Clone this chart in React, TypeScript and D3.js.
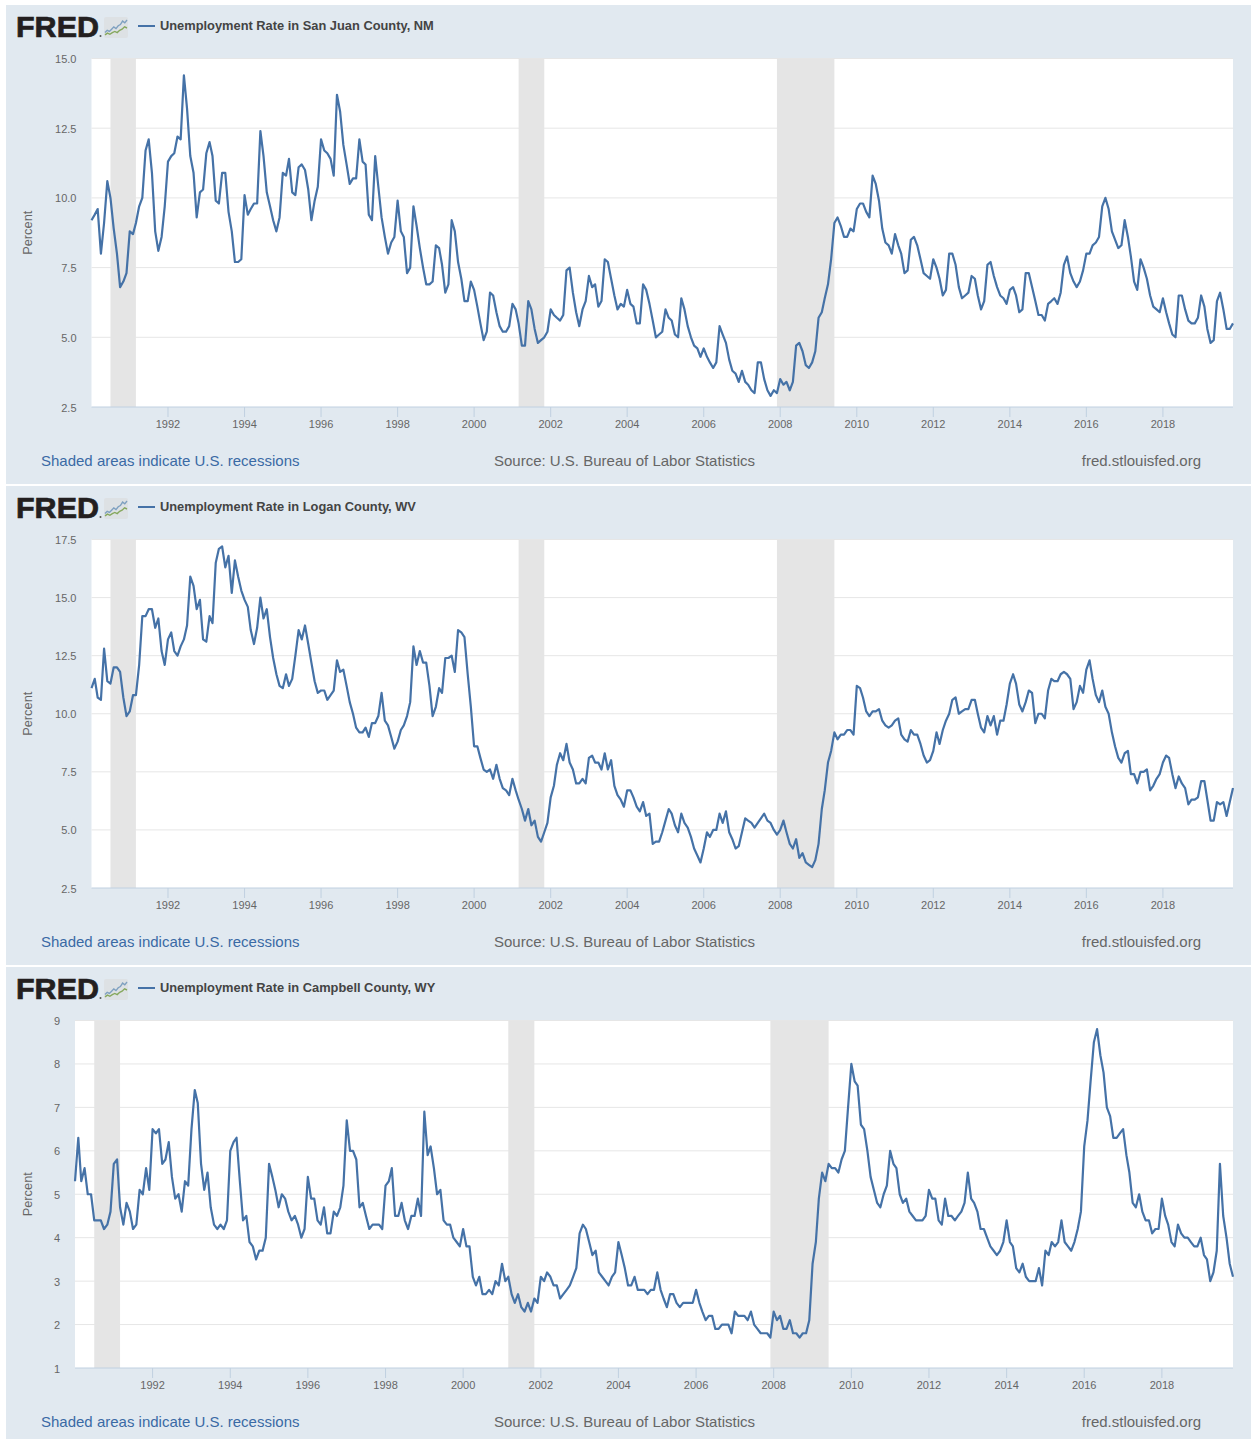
import React from "react";
import * as d3 from "d3";

// monthly values, Jan 1990 - Nov 2019, one row per year
const sanJuan = [
  9.2,9.4,9.6,8.0,9.1,10.6,10.0,8.9,8.0,6.8,7.0,7.3,
  8.8,8.7,9.1,9.7,10.0,11.7,12.1,10.9,8.8,8.1,8.6,9.7,
  11.3,11.5,11.6,12.2,12.1,14.4,13.2,11.5,10.9,9.3,10.2,10.3,
  11.6,12.0,11.5,9.9,9.8,10.9,10.9,9.5,8.8,7.7,7.7,7.8,
  10.1,9.4,9.6,9.8,9.8,12.4,11.5,10.2,9.7,9.2,8.8,9.3,
  10.9,10.8,11.4,10.2,10.1,11.1,11.2,11.0,10.3,9.2,9.9,10.4,
  12.1,11.7,11.6,11.4,10.8,13.7,13.1,11.9,11.2,10.5,10.7,10.7,
  12.1,11.3,11.2,9.4,9.2,11.5,10.4,9.3,8.6,8.0,8.4,8.6,
  9.9,8.8,8.6,7.3,7.5,9.7,9.0,8.2,7.5,6.9,6.9,7.0,
  8.3,8.2,7.6,6.6,6.9,9.2,8.8,7.7,7.1,6.3,6.3,7.0,
  6.7,6.1,5.5,4.9,5.2,6.6,6.5,5.9,5.4,5.2,5.2,5.4,
  6.2,6.0,5.5,4.7,4.7,6.3,6.0,5.3,4.8,4.9,5.0,5.2,
  6.0,5.8,5.7,5.6,5.8,7.4,7.5,6.6,5.9,5.4,6.0,6.3,
  7.2,6.8,6.9,6.1,6.3,7.8,7.7,7.1,6.5,6.0,6.2,6.1,
  6.7,6.2,6.1,5.5,5.5,6.9,6.7,6.2,5.6,5.0,5.1,5.2,
  6.0,5.7,5.6,5.1,5.0,6.4,6.0,5.4,5.0,4.7,4.6,4.3,
  4.6,4.3,4.1,3.9,4.1,5.4,5.1,4.8,4.2,3.8,3.7,3.4,
  3.8,3.4,3.3,3.1,3.0,4.1,4.1,3.5,3.1,2.9,3.1,3.0,
  3.5,3.3,3.4,3.1,3.4,4.7,4.8,4.5,4.0,3.9,4.1,4.5,
  5.7,5.9,6.4,6.9,7.8,9.1,9.3,9.0,8.6,8.6,8.9,8.8,
  9.6,9.8,9.8,9.5,9.3,10.8,10.5,9.9,8.9,8.4,8.3,8.0,
  8.7,8.3,8.0,7.3,7.4,8.5,8.6,8.3,7.8,7.3,7.2,7.1,
  7.8,7.5,7.1,6.5,6.7,8.0,8.0,7.6,6.8,6.4,6.5,6.6,
  7.2,7.1,6.5,6.0,6.3,7.6,7.7,7.2,6.8,6.5,6.4,6.2,
  6.7,6.8,6.5,5.9,6.0,7.3,7.3,6.8,6.3,5.8,5.8,5.6,
  6.2,6.3,6.4,6.2,6.6,7.6,7.9,7.3,7.0,6.8,7.0,7.4,
  8.0,8.0,8.3,8.4,8.6,9.7,10.0,9.6,8.8,8.5,8.2,8.3,
  9.2,8.6,7.9,7.0,6.7,7.8,7.5,7.1,6.5,6.1,6.0,5.9,
  6.4,5.9,5.5,5.1,5.0,6.5,6.5,6.0,5.6,5.5,5.5,5.7,
  6.5,6.1,5.3,4.8,4.9,6.3,6.6,6.0,5.3,5.3,5.5,
];

const logan = [
  11.1,11.5,10.7,10.6,12.8,11.4,11.3,12.0,12.0,11.8,10.7,9.9,
  10.1,10.8,10.8,12.1,14.2,14.2,14.5,14.5,13.7,14.1,12.7,12.1,
  13.2,13.5,12.7,12.5,12.9,13.2,13.8,15.9,15.5,14.5,14.9,13.2,
  13.1,14.2,13.9,16.5,17.1,17.2,16.3,16.8,15.2,16.6,15.9,15.3,
  14.9,14.6,13.6,13.0,13.7,15.0,14.1,14.5,13.3,12.4,11.7,11.2,
  11.1,11.7,11.2,11.5,12.5,13.6,13.2,13.8,13.0,12.2,11.4,10.9,
  11.0,11.0,10.6,10.8,11.0,12.3,11.8,11.9,11.2,10.5,10.0,9.4,
  9.2,9.2,9.4,9.0,9.6,9.6,9.9,10.9,9.7,9.5,9.0,8.5,
  8.8,9.3,9.5,9.9,10.5,12.9,12.1,12.7,12.2,12.2,11.2,9.9,
  10.3,11.1,10.9,12.4,12.4,12.5,11.8,13.6,13.5,13.3,11.7,10.3,
  8.6,8.6,8.1,7.6,7.5,7.6,7.2,7.8,7.2,6.8,6.7,6.5,
  7.2,6.7,6.3,5.9,5.4,5.9,5.2,5.4,4.7,4.5,4.9,5.3,
  6.4,6.9,7.8,8.3,8.0,8.7,7.9,7.6,7.0,7.0,7.2,7.0,
  8.1,8.2,7.9,7.9,7.6,8.3,7.6,8.0,6.9,6.5,6.3,6.0,
  6.7,6.7,6.4,6.0,5.8,6.2,5.6,5.7,4.4,4.5,4.5,4.9,
  5.4,5.9,5.7,5.2,4.9,5.7,5.3,5.1,4.7,4.2,3.9,3.6,
  4.2,4.9,4.7,5.0,5.0,5.7,5.3,5.8,4.9,4.6,4.2,4.3,
  4.9,5.5,5.4,5.3,5.1,5.3,5.5,5.7,5.4,5.3,5.0,4.8,
  5.0,5.4,4.9,4.4,4.2,4.6,3.8,4.0,3.6,3.5,3.4,3.7,
  4.4,5.9,6.7,7.9,8.4,9.2,8.9,9.1,9.1,9.3,9.3,9.1,
  11.2,11.1,10.7,10.1,9.9,10.1,10.1,10.2,9.7,9.5,9.4,9.5,
  9.7,9.8,9.1,8.9,8.8,9.3,9.1,9.1,8.7,8.2,7.9,8.0,
  8.4,9.2,8.7,9.3,9.7,10.0,10.6,10.7,10.0,10.1,10.2,10.2,
  10.6,10.6,10.0,9.4,9.2,9.9,9.5,9.9,9.1,9.7,9.7,10.4,
  11.3,11.7,11.3,10.4,10.1,10.5,11.0,10.9,9.6,10.0,10.0,9.8,
  11.0,11.5,11.4,11.4,11.7,11.8,11.7,11.5,10.2,10.5,11.2,10.9,
  11.9,12.3,11.5,10.8,10.5,11.0,10.3,10.0,9.2,8.6,8.1,7.9,
  8.3,8.4,7.4,7.4,7.0,7.5,7.5,7.6,6.7,6.9,7.2,7.4,
  7.9,8.2,8.1,7.4,6.8,7.3,7.0,6.8,6.1,6.3,6.3,6.4,
  7.1,7.1,6.3,5.4,5.4,6.2,6.1,6.2,5.6,6.2,6.8,
];

const campbell = [
  5.3,6.3,5.3,5.6,5.0,5.0,4.4,4.4,4.4,4.2,4.3,4.6,
  5.7,5.8,4.7,4.3,4.8,4.6,4.2,4.3,5.1,5.0,5.6,5.1,
  6.5,6.4,6.5,5.7,5.8,6.2,5.4,4.9,5.0,4.6,5.3,5.2,
  6.5,7.4,7.1,5.7,5.1,5.5,4.7,4.3,4.2,4.3,4.2,4.4,
  6.0,6.2,6.3,5.3,4.4,4.5,3.9,3.8,3.5,3.7,3.7,4.0,
  5.7,5.4,5.1,4.7,5.0,4.9,4.6,4.4,4.5,4.3,4.0,4.2,
  5.4,4.9,4.9,4.4,4.3,4.7,4.1,4.1,4.6,4.5,4.7,5.2,
  6.7,6.0,6.0,5.8,4.7,4.8,4.5,4.2,4.3,4.3,4.3,4.2,
  5.2,5.3,5.6,4.5,4.5,4.8,4.4,4.2,4.5,4.5,4.9,4.5,
  6.9,5.9,6.1,5.6,5.0,5.1,4.4,4.3,4.3,4.0,3.9,3.8,
  4.2,3.8,3.8,3.1,2.9,3.1,2.7,2.7,2.8,2.7,3.0,2.9,
  3.4,3.0,3.1,2.7,2.5,2.7,2.4,2.3,2.5,2.3,2.6,2.5,
  3.1,3.0,3.2,3.1,2.9,2.9,2.6,2.7,2.8,2.9,3.1,3.3,
  4.1,4.3,4.2,3.9,3.6,3.7,3.2,3.1,3.0,2.9,3.1,3.2,
  3.9,3.6,3.3,2.9,2.9,3.1,2.8,2.8,2.8,2.7,2.8,2.8,
  3.2,2.8,2.6,2.4,2.7,2.7,2.5,2.4,2.5,2.5,2.5,2.5,
  2.8,2.5,2.3,2.1,2.2,2.2,1.9,1.9,2.0,2.0,2.0,1.8,
  2.3,2.2,2.2,2.2,2.1,2.3,2.0,1.9,1.8,1.8,1.8,1.7,
  2.3,2.1,2.2,1.9,1.9,2.1,1.8,1.8,1.7,1.8,1.8,2.1,
  3.4,3.9,4.9,5.5,5.3,5.7,5.6,5.6,5.5,5.8,6.0,7.0,
  8.0,7.6,7.5,6.6,6.5,6.0,5.4,5.1,4.8,4.7,5.0,5.2,
  6.0,5.7,5.6,5.0,4.8,4.9,4.6,4.5,4.4,4.4,4.4,4.5,
  5.1,4.9,4.9,4.4,4.3,4.9,4.5,4.5,4.4,4.5,4.6,4.8,
  5.5,4.9,4.8,4.6,4.2,4.2,4.0,3.8,3.7,3.6,3.7,3.9,
  4.4,3.9,3.8,3.3,3.2,3.4,3.1,3.0,3.0,3.0,3.3,2.9,
  3.7,3.6,3.9,3.8,3.9,4.4,3.9,3.8,3.7,3.9,4.2,4.6,
  6.1,6.7,7.6,8.5,8.8,8.2,7.8,7.0,6.8,6.3,6.3,6.4,
  6.5,5.9,5.5,4.8,4.7,5.0,4.6,4.4,4.4,4.1,4.2,4.2,
  4.9,4.5,4.3,3.9,3.8,4.3,4.1,4.0,4.0,3.9,3.8,3.8,
  4.0,3.6,3.5,3.0,3.2,3.7,5.7,4.5,4.0,3.4,3.1,
];

const titles = [
  "Unemployment Rate in San Juan County, NM",
  "Unemployment Rate in Logan County, WV",
  "Unemployment Rate in Campbell County, WY",
];
const yTicksA = [2.5, 5, 7.5, 10, 12.5, 15];
const yTicksB = [2.5, 5, 7.5, 10, 12.5, 15, 17.5];
const yTicksC = [1, 2, 3, 4, 5, 6, 7, 8, 9];
const tickYears = d3.range(1992, 2020, 2);
const recessions: [Date, Date][] = [
  [new Date(1990, 6, 1), new Date(1991, 2, 1)],
  [new Date(2001, 2, 1), new Date(2001, 10, 1)],
  [new Date(2007, 11, 1), new Date(2009, 5, 1)],
];
// little sparkline in the logo
const logoGreen = [1, 2.5, 1.5, 3, 4, 3, 5, 6, 8, 7];
const logoBlue = [3, 5, 4, 6, 8, 6.5, 9, 10, 13, 11.5, 14];

const FONT = "'Liberation Sans', Arial, sans-serif";
const LINE = "#4572a7";
const BG = "#e1e9f0";

function Logo() {
  const iy = d3.scaleLinear().domain([0, 14]).range([36, 20]);
  const spark = (vals: number[]) => {
    const ix = d3.scaleLinear().domain([0, vals.length - 1]).range([105, 127]);
    return d3.line<number>().x((_, i) => ix(i)).y((d) => iy(d))(vals) || "";
  };
  return (
    <g>
      <text x={16} y={37} fontFamily={FONT} fontSize={29} fontWeight={700} fill="#231f20" stroke="#231f20" strokeWidth={0.7} textLength={83} lengthAdjust="spacingAndGlyphs">FRED</text>
      <circle cx={100.5} cy={36} r={1} fill="#555" />
      <rect x={104} y={17} width={24} height={21} rx={2} fill="#dde1e4" />
      <path d={spark(logoGreen)} fill="none" stroke="#86a85e" strokeWidth={1.4} />
      <path d={spark(logoBlue)} fill="none" stroke="#7ea0c0" strokeWidth={1.4} />
    </g>
  );
}

function Panel({ top, bottom, plotLeft, plotTop, plotBottom, values, yTicks, yFormat, title, footerY }: any) {
  const plotRight = 1233;
  const dates = values.map((_: number, i: number) => new Date(1990, i, 1));
  const x = d3.scaleTime().domain([dates[0], dates[dates.length - 1]]).range([plotLeft, plotRight]);
  const y = d3.scaleLinear().domain([yTicks[0], yTicks[yTicks.length - 1]]).range([plotBottom, plotTop]);
  const line = d3.line<number>().x((_, i) => x(dates[i])).y((d) => y(d));
  return (
    <g fontFamily={FONT}>
      <rect x={6} y={top} width={1245} height={bottom - top} fill={BG} />
      <g transform={`translate(0,${top - 5})`}>
        <Logo />
        <line x1={138} x2={155} y1={26} y2={26} stroke={LINE} strokeWidth={2} />
        <text x={160} y={30} fontSize={12.85} fontWeight={700} fill="#444">{title}</text>
      </g>
      <rect x={plotLeft} y={plotTop} width={plotRight - plotLeft} height={plotBottom - plotTop} fill="#fff" />
      {yTicks.slice(1).map((t: number) => (
        <line key={t} x1={plotLeft} x2={plotRight} y1={y(t)} y2={y(t)} stroke="#e6e6e6" />
      ))}
      {recessions.map(([a, b], i) => (
        <rect key={i} x={x(a)} y={plotTop} width={x(b) - x(a)} height={plotBottom - plotTop} fill="#e5e5e5" />
      ))}
      <line x1={plotLeft} x2={plotRight} y1={plotBottom} y2={plotBottom} stroke="#c0d0e0" />
      {tickYears.map((yr) => {
        const tx = x(new Date(yr, 0, 1));
        return (
          <g key={yr}>
            <line x1={tx} x2={tx} y1={plotBottom} y2={plotBottom + 10} stroke="#c0d0e0" />
            <text x={tx} y={plotBottom + 21} fontSize={11} textAnchor="middle" fill="#666">{yr}</text>
          </g>
        );
      })}
      {yTicks.map((t: number) => (
        <text key={t} x={plotLeft - 15} y={y(t) + 4.5} fontSize={11} textAnchor="end" fill="#666">{yFormat(t)}</text>
      ))}
      <text transform={`translate(32,${(plotTop + plotBottom) / 2}) rotate(-90)`} fontSize={12.8} textAnchor="middle" fill="#666">Percent</text>
      <path d={line(values) || ""} fill="none" stroke={LINE} strokeWidth={2.2} strokeLinejoin="round" />
      <text x={41} y={footerY} fontSize={15} fill="#3a6aa5">Shaded areas indicate U.S. recessions</text>
      <text x={494} y={footerY} fontSize={15} fill="#666">Source: U.S. Bureau of Labor Statistics</text>
      <text x={1201} y={footerY} fontSize={15} textAnchor="end" fill="#666">fred.stlouisfed.org</text>
    </g>
  );
}

export default function App() {
  const oneDecimal = d3.format(".1f");
  return (
    <svg width={1251} height={1439} style={{ position: "absolute", left: 0, top: 0, display: "block" }}>
      <rect width={1251} height={1439} fill="#fff" />
      <Panel top={5} bottom={484} plotLeft={91.5} plotTop={58.5} plotBottom={407} values={sanJuan} yTicks={yTicksA} yFormat={oneDecimal} title={titles[0]} footerY={465.5} />
      <Panel top={486} bottom={965} plotLeft={91.5} plotTop={539.5} plotBottom={888} values={logan} yTicks={yTicksB} yFormat={oneDecimal} title={titles[1]} footerY={946.5} />
      <Panel top={967} bottom={1439} plotLeft={75} plotTop={1020.5} plotBottom={1368} values={campbell} yTicks={yTicksC} yFormat={String} title={titles[2]} footerY={1426.5} />
    </svg>
  );
}
